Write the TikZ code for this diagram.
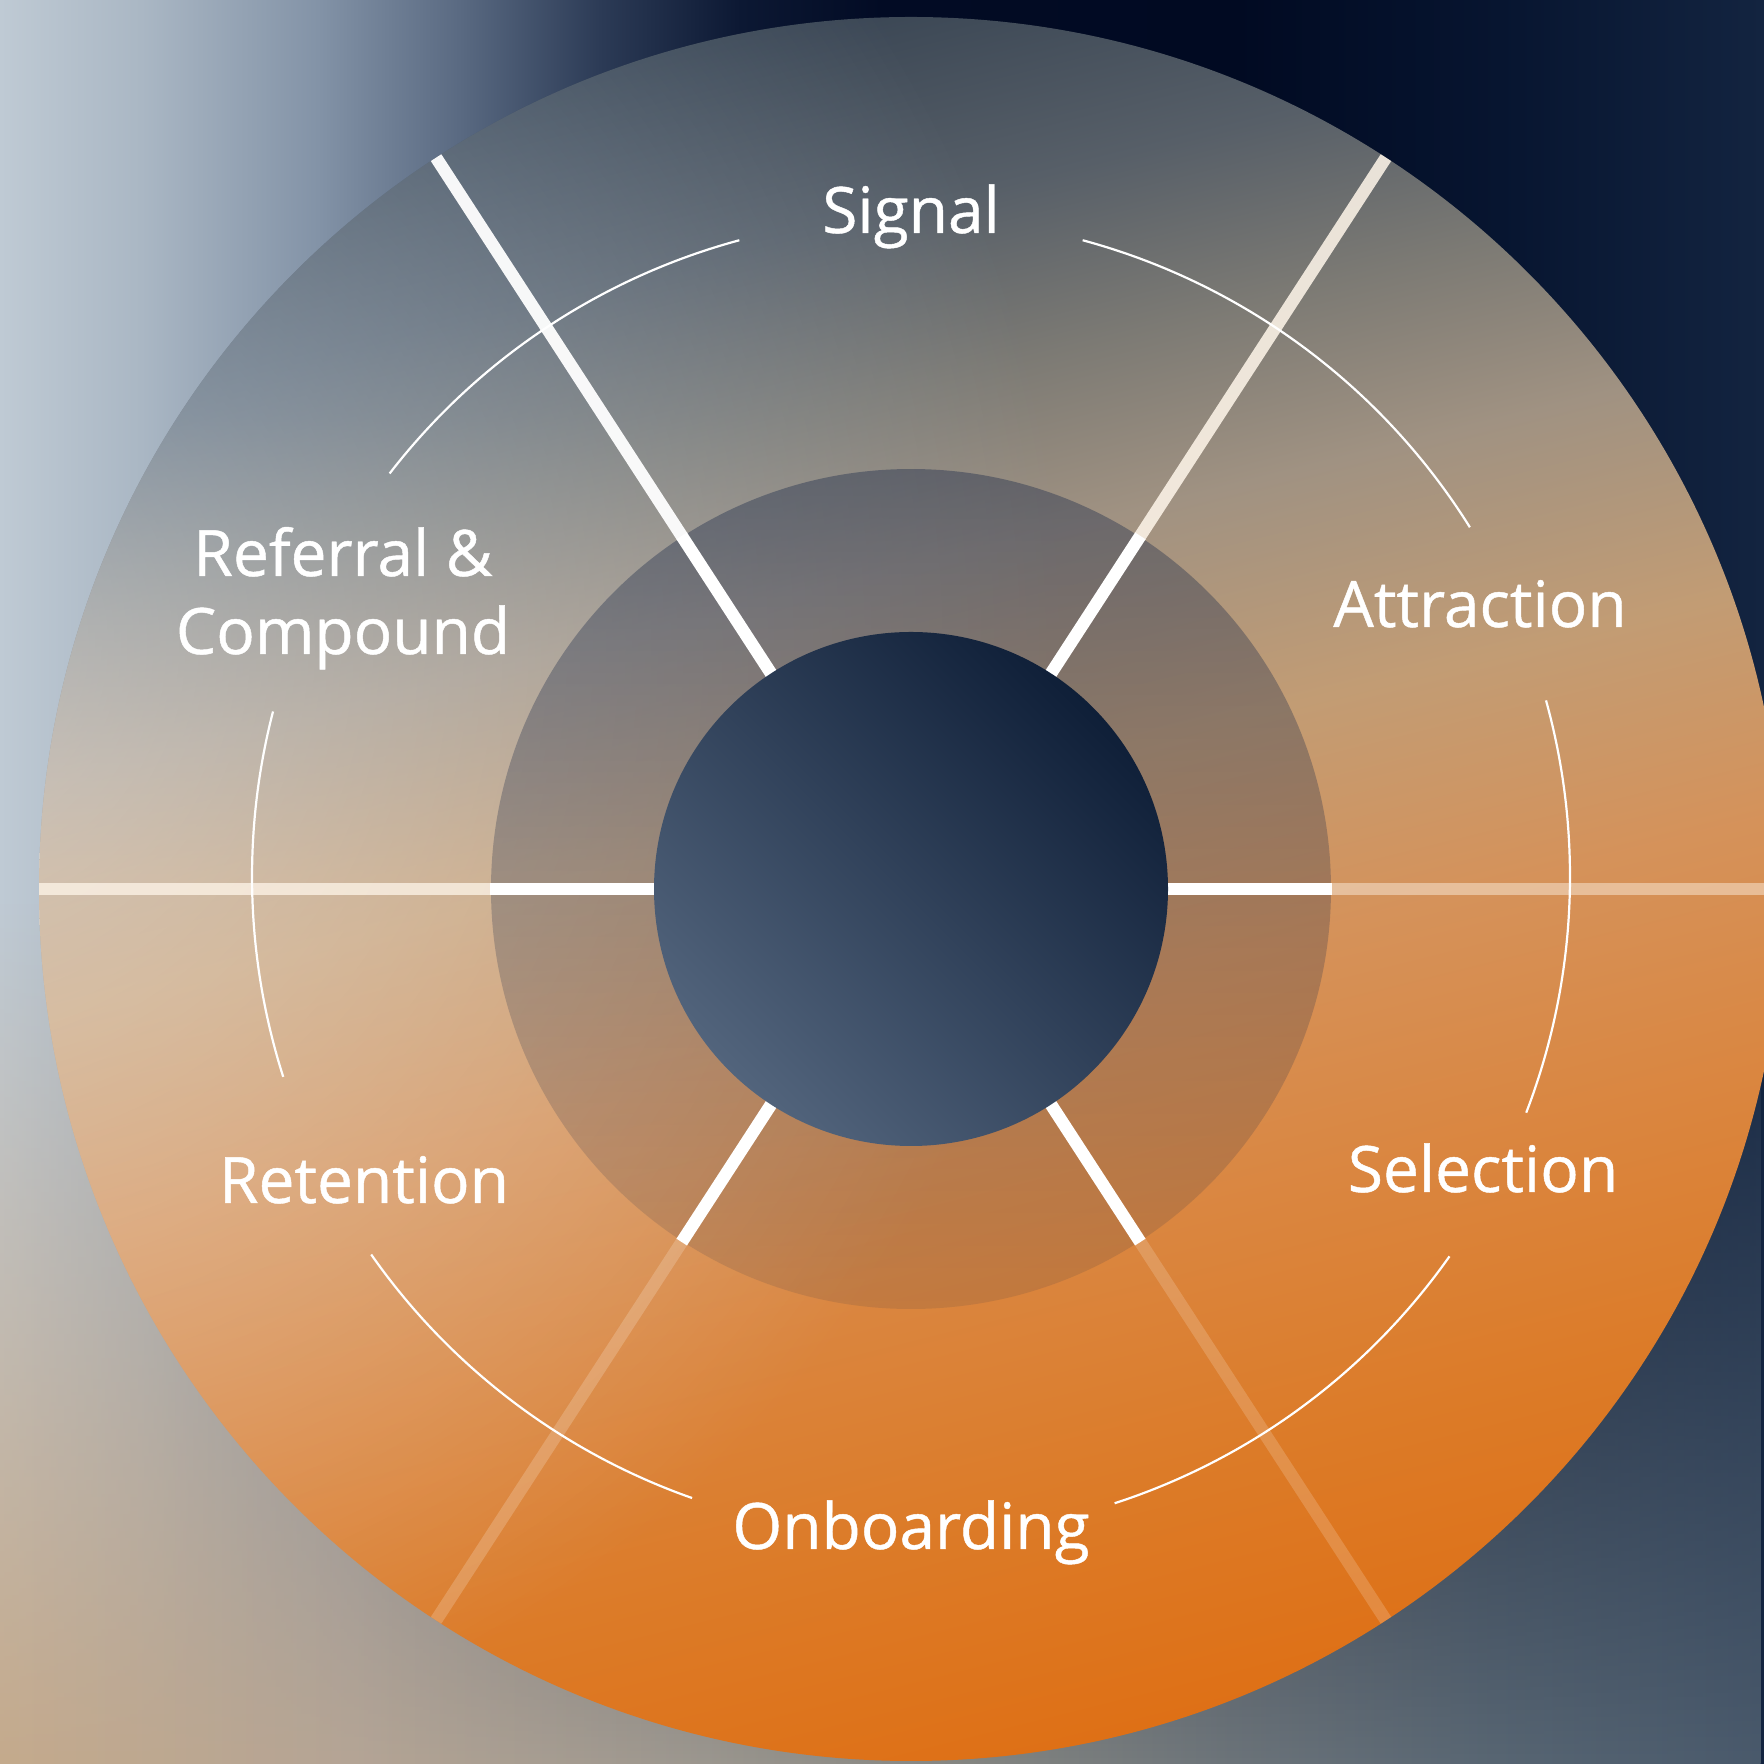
\documentclass[tikz,border=0pt]{standalone}
\usepackage{fontspec}
\setmainfont{Open Sans}[FakeBold=0.7]
\usetikzlibrary{fadings}

% backdrop, left to right
\definecolor{sk0}{HTML}{BFCAD4}
\definecolor{sk1}{HTML}{AAB7C4}
\definecolor{sk2}{HTML}{8393A7}
\definecolor{sk3}{HTML}{5A6A82}
\definecolor{sk4}{HTML}{2C3B56}
\definecolor{sk5}{HTML}{0C1833}
\definecolor{sk6}{HTML}{020B24}
\definecolor{sk7}{HTML}{010A22}
\definecolor{sk8}{HTML}{071530}
\definecolor{sk9}{HTML}{132440}
% backdrop, lower band
\definecolor{gr0}{HTML}{C5AA8C}
\definecolor{gr1}{HTML}{B5A595}
\definecolor{gr2}{HTML}{9C978F}
\definecolor{gr3}{HTML}{858682}
\definecolor{gr4}{HTML}{6C747A}
\definecolor{gr5}{HTML}{586673}
\definecolor{gr6}{HTML}{4A5A6C}
% outer disc, bottom to top
\definecolor{dk0}{HTML}{DE7016}
\definecolor{dk1}{HTML}{DC7B28}
\definecolor{dk2}{HTML}{DA8640}
\definecolor{dk3}{HTML}{D5925A}
\definecolor{dk4}{HTML}{C29C74}
\definecolor{dk5}{HTML}{A09282}
\definecolor{dk6}{HTML}{7C7A74}
\definecolor{dk7}{HTML}{575F68}
\definecolor{dk8}{HTML}{3A4654}
% soft light on the left of the disc
\definecolor{hzwarm}{HTML}{EFE4D8}
\definecolor{hzcool}{HTML}{B4C6D8}
% other tones
\definecolor{cream}{HTML}{FFF6EA}
\definecolor{ringnavy}{HTML}{1F2D4B}
\definecolor{hubdark}{HTML}{0F1F38}
\definecolor{hublight}{HTML}{52647C}

\pgfdeclarehorizontalshading{skyband}{100bp}{color(0bp)=(sk0); color(25bp)=(sk0); color(29bp)=(sk1); color(34bp)=(sk2); color(38bp)=(sk3); color(42bp)=(sk4); color(46bp)=(sk5); color(50bp)=(sk6); color(60bp)=(sk7); color(67.5bp)=(sk8); color(75bp)=(sk9); color(100bp)=(sk9)}
\pgfdeclarehorizontalshading{groundband}{100bp}{color(0bp)=(gr0); color(25bp)=(gr0); color(35bp)=(gr1); color(45bp)=(gr2); color(52.5bp)=(gr3); color(60bp)=(gr4); color(67.5bp)=(gr5); color(75bp)=(gr6); color(100bp)=(gr6)}
\pgfdeclareverticalshading{discband}{100bp}{color(0bp)=(dk0); color(25bp)=(dk0); color(32bp)=(dk1); color(39bp)=(dk2); color(46bp)=(dk3); color(52.5bp)=(dk4); color(59bp)=(dk5); color(64bp)=(dk6); color(69bp)=(dk7); color(75bp)=(dk8); color(100bp)=(dk8)}
\pgfdeclareverticalshading{hazeband}{100bp}{color(0bp)=(hzwarm); color(45bp)=(hzwarm); color(55bp)=(hzcool); color(100bp)=(hzcool)}

\tikzfading[name=bottomup, bottom color=transparent!0, top color=transparent!100]
\tikzfading[name=glowfade, inner color=transparent!30, outer color=transparent!100]
\tikzfading[name=ringfade, top color=transparent!58, bottom color=transparent!88]

\begin{document}
\begin{tikzpicture}[x=1pt,y=1pt,
  spoke/.style={line width=12.5pt},
  arcline/.style={draw=white,line width=2.2pt},
  ringtext/.style={text=white,font=\fontsize{64}{78}\selectfont,align=center,anchor=base,inner sep=0pt}]
\useasboundingbox (0,0) rectangle (1764,1764);
\clip (0,0) rectangle (1764,1764);
\coordinate (C) at (911,875);    % hub of the wheel
\coordinate (A) at (911,887.5);  % centre of the thin label arcs

% backdrop
\shade[shading=skyband] (0,0) rectangle (1764,1764);
\shade[shading=groundband, path fading=bottomup] (0,0) rectangle (1764,860);

% outer disc with a soft light from the left
\shade[shading=discband, shading angle=14] (C) circle[radius=872];
\begin{scope}
  \clip (C) circle[radius=872];
  \shade[shading=hazeband, path fading=glowfade] (-80,1120) circle[radius=1150];
\end{scope}

% outer parts of the spokes
\draw[spoke, draw=white, draw opacity=0.95, shift={(C)}] (123:420) -- (123:872);
\foreach \a/\op in {57/0.86, 180/0.75, 0/0.45, 237/0.21, 303/0.19}
  \draw[spoke, draw=cream, draw opacity=\op, shift={(C)}] (\a:420) -- (\a:872);

% thin arcs between the stage names
\draw[arcline, shift={(A)}] (142.3:659) arc[start angle=142.3, end angle=105.1, radius=659];
\draw[arcline, shift={(A)}] (74.9:659) arc[start angle=74.9, end angle=32, radius=659];
\draw[arcline, shift={(A)}] (15.5:659) arc[start angle=15.5, end angle=-21, radius=659];
\draw[arcline, shift={(A)}] (-35.2:659) arc[start angle=-35.2, end angle=-72, radius=659];
\draw[arcline, shift={(A)}] (-109.4:659) arc[start angle=-109.4, end angle=-145, radius=659];
\draw[arcline, shift={(A)}] (-162.3:659) arc[start angle=-162.3, end angle=-194.5, radius=659];

% middle ring
\fill[ringnavy, path fading=ringfade] (C) circle[radius=420];

% inner parts of the spokes
\foreach \a in {123,57,180,0,237,303}
  \draw[spoke, draw=white, shift={(C)}] (\a:250) -- (\a:421);

% hub
\shade[top color=hubdark, bottom color=hublight, shading angle=-45] (C) circle[radius=257];

% stage names
\node[ringtext] (signal) at (911,1531) {Signal};
\node[ringtext] (attraction) at (1480,1137) {Attraction};
\node[ringtext] (referral) at (343,1110) {Referral \&\\Compound};
\node[ringtext] (selection) at (1483,572) {Selection};
\node[ringtext] (retention) at (364,561) {Retention};
\node[ringtext] (onboarding) at (911,215) {Onboarding};
\end{tikzpicture}
\end{document}
